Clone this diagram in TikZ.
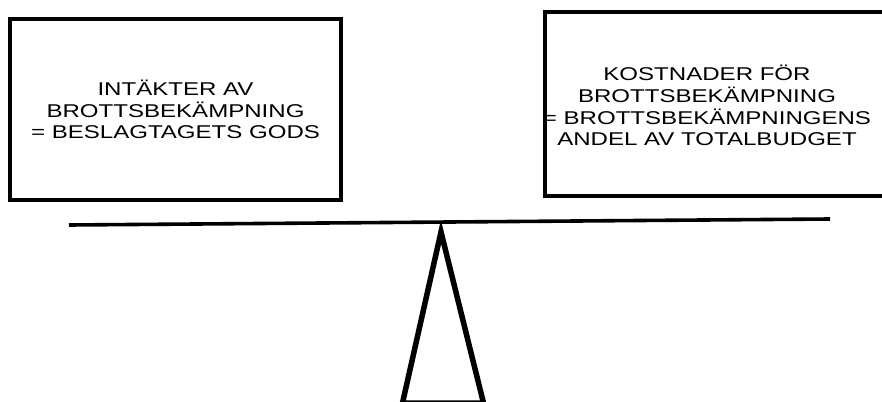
\documentclass[tikz,border=0pt]{standalone}
\usepackage{fontspec}
\newfontfamily\balfont[FakeStretch=1.3]{Liberation Sans}
\tikzset{
  balbox/.style={draw=black, line width=3.2pt, inner sep=0pt},
  baltext/.style={font=\balfont\fontsize{18.5}{21.7}\selectfont, align=center, inner sep=0pt},
  balbeam/.style={line width=3.6pt, draw=black, line cap=butt},
  balstand/.style={line width=5.5pt, draw=black, line join=miter},
}

\begin{document}
\begin{tikzpicture}[x=1pt, y=-1pt]
\useasboundingbox (0,0) rectangle (882,401);
\clip (0,0) rectangle (882,401);
\node[balbox, minimum width=331pt, minimum height=181pt] (income) at (175.5,109.5) {};
\node[baltext] (incometext) at (income.center) {INTÄKTER AV\\BROTTSBEKÄMPNING\\= BESLAGTAGETS GODS};
\node[balbox, minimum width=355pt, minimum height=184pt] (costs) at (722.5,104) {};
\node[baltext] (coststext) at (707,105.5) {KOSTNADER FÖR\\BROTTSBEKÄMPNING\\= BROTTSBEKÄMPNINGENS\\ANDEL AV TOTALBUDGET};
% fulcrum
\coordinate (apex) at (441,232);
\coordinate (footL) at (402.5,403);
\coordinate (footR) at (483.5,403);
\draw[balstand] (apex) -- (footL) -- (footR) -- cycle;
% beam
\coordinate (beamL) at (69,225);
\coordinate (beamR) at (830,219);
\draw[balbeam] (beamL) -- (beamR);
\end{tikzpicture}
\end{document}
